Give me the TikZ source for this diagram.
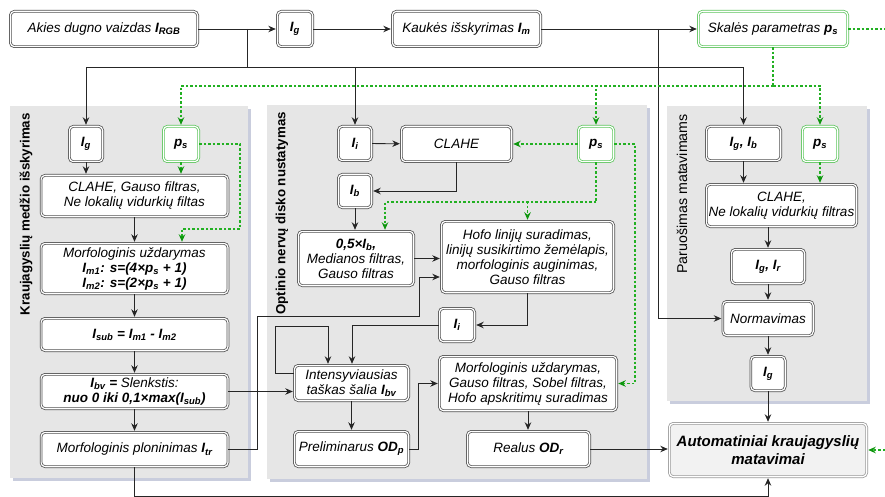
\documentclass[tikz,border=0pt]{standalone}
\usepackage{fontspec}
\setmainfont{Liberation Sans}
\usetikzlibrary{arrows.meta}

\definecolor{boxline}{HTML}{505050}
\definecolor{autoline}{HTML}{9A9A9A}
\definecolor{autofill}{HTML}{F2F2F2}
\definecolor{panelfill}{HTML}{E6E6E6}
\definecolor{panelshade}{HTML}{C9CDDD}
\definecolor{greenbox}{HTML}{5CC45C}
\definecolor{greendash}{HTML}{22B022}
\definecolor{greentip}{HTML}{0E960E}
\definecolor{wire}{HTML}{262626}
\definecolor{boxshade}{HTML}{BFBFBF}

\newcommand\varsub[2]{\textbf{#1\textsubscript{#2}}}

\tikzset{
  box/.style={draw=boxline, double=white, double distance=1.2pt, line width=0.75pt,
    rounded corners=4pt, fill=white, align=center, inner sep=1pt,
    font=\fontsize{13.5}{15}\selectfont\itshape},
  gbox/.style={box, draw=greenbox},
  sz/.style 2 args={minimum width=#1pt-2.7pt, minimum height=#2pt-2.7pt},
  conn/.style={draw=wire, line width=0.8pt, shorten >=1.2pt,
    -{Stealth[length=7.5pt,width=6.5pt]}},
  wireline/.style={draw=wire, line width=0.8pt},
  gconn/.style={draw=greendash, line width=1.1pt, dash pattern=on 2.5pt off 2pt,
    shorten >=1.2pt, -{Stealth[length=7.5pt,width=6.5pt,color=greentip]}},
  gline/.style={draw=greendash, line width=1.1pt, dash pattern=on 2.5pt off 2pt},
  plabel/.style={rotate=90, anchor=east, inner sep=0pt,
    font=\fontsize{13.3}{15}\selectfont\bfseries},
}

\begin{document}
\begin{tikzpicture}[x=1pt,y=-1pt]
\useasboundingbox (0,0) rectangle (885,497);

% grey group panels with a soft shadow
\fill[panelshade] (13,109) rectangle (251,481);
\fill[panelfill] (10,106) rectangle (248,478);
\fill[panelshade] (270,108) rectangle (650,482);
\fill[panelfill] (267,105) rectangle (647,479);
\fill[panelshade] (670,109) rectangle (870,404);
\fill[panelfill] (667,106) rectangle (867,401);

\node[plabel] (labL) at (26,113) {Kraujagyslių medžio išskyrimas};
\node[plabel] (labM) at (282,112) {Optinio nervų disko nustatymas};
\node[plabel, font=\fontsize{14.2}{15}\selectfont] (labR) at (682,114) {Paruošimas matavimams};

% top row
\node[box, sz={190}{38}] (rgb) at (104,29) {Akies dugno vaizdas \varsub{I}{RGB}};
\node[box, sz={38}{38}] (ig0) at (295,29) {\varsub{I}{g}};
\node[box, sz={151}{38}] (mask) at (466.5,29) {Kaukės išskyrimas \varsub{I}{m}};
\node[gbox, sz={152}{38}] (ps0) at (773,29) {Skalės parametras \varsub{p}{s}};

% vessel tree extraction
\node[box, sz={36}{38}] (igL) at (86,144) {\varsub{I}{g}};
\node[gbox, sz={38}{38}] (psL) at (181,144) {\varsub{p}{s}};
\node[box, sz={189.5}{44}] (claheL) at (134.5,196) {CLAHE, Gauso filtras,\\Ne lokalių vidurkių filtas};
\node[box, sz={189.5}{53}] (morfL) at (134.5,268.5) {Morfologinis uždarymas\\
  \textbf{I\textsubscript{m1}: s=(4×p\textsubscript{s} + 1)}\\
  \textbf{I\textsubscript{m2}: s=(2×p\textsubscript{s} + 1)}};
\node[box, sz={189.5}{35}] (isub) at (134.5,334.5) {\textbf{I\textsubscript{sub} = I\textsubscript{m1} - I\textsubscript{m2}}};
\node[box, sz={189.5}{37}] (ibv) at (134.5,391.5) {\textbf{I\textsubscript{bv} =} Slenkstis:\\\textbf{nuo 0 iki 0,1×max(I\textsubscript{sub})}};
\node[box, sz={189.5}{37}] (plon) at (134.5,449.5) {Morfologinis ploninimas \varsub{I}{tr}};

% optic disc detection
\node[box, sz={36}{37}] (ii1) at (355,143.5) {\varsub{I}{i}};
\node[box, sz={113}{38}] (claheM) at (456.5,144) {CLAHE};
\node[gbox, sz={38}{38}] (psM) at (596,144) {\varsub{p}{s}};
\node[box, sz={36}{36}] (ib) at (355,191) {\varsub{I}{b}};
\node[box, sz={118}{57}] (med) at (356,258.5) {\textbf{0,5×I\textsubscript{b},}\\Medianos filtras,\\Gauso filtras};
\node[box, sz={175}{74}] (hofo) at (527.5,257) {Hofo linijų suradimas,\\linijų susikirtimo žemėlapis,\\morfologinis auginimas,\\Gauso filtras};
\node[box, sz={38}{36}] (ii2) at (457,325) {\varsub{I}{i}};
\node[box, sz={117}{38}] (intens) at (351.5,383) {Intensyviausias\\taškas šalia \varsub{I}{bv}};
\node[box, sz={180}{57}] (morfM) at (528,383.5) {Morfologinis uždarymas,\\Gauso filtras, Sobel filtras,\\Hofo apskritimų suradimas};
\node[box, sz={117}{38}] (prelim) at (351.5,449) {Preliminarus \varsub{OD}{p}};
\node[box, sz={125}{38}] (realus) at (528.5,449) {Realus \varsub{OD}{r}};

% preparation for measurements
\node[box, sz={77}{37}] (igib) at (743.5,143.5) {\textbf{I\textsubscript{g}, I\textsubscript{b}}};
\node[gbox, sz={38}{38}] (psR) at (820,144) {\varsub{p}{s}};
\node[box, sz={153}{45}] (claheR) at (781.5,205.5) {CLAHE,\\Ne lokalių vidurkių filtras};
\node[box, sz={76}{37}] (igir) at (768,266.5) {\textbf{I\textsubscript{g}, I\textsubscript{r}}};
\node[box, sz={93}{37}] (norm) at (768,318.5) {Normavimas};
\node[box, sz={37}{37}] (igR) at (768,373.5) {\varsub{I}{g}};
\node[box, draw=autoline, fill=autofill, sz={200}{56},
  font=\fontsize{15}{17.5}\selectfont\bfseries\itshape] (auto) at (768,450)
  {Automatiniai kraujagyslių\\matavimai};

% junction points
\coordinate (j1) at (247,29);
\coordinate (h1) at (247,67);
\coordinate (j2) at (658,29);
\coordinate (g1) at (773,86);
\coordinate (gL) at (182,229);
\coordinate (gLc) at (240,229);
\coordinate (k1) at (257,316);
\coordinate (k2) at (419,277);
\coordinate (b1) at (134.5,496.5);
\coordinate (g2) at (596,202);
\coordinate (m1) at (385,0);
\coordinate (g3) at (635,383.5);
\coordinate (m2) at (352,0);
\coordinate (ly) at (0,373);
\coordinate (l1) at (275,326);
\coordinate (l2) at (328,0);
\coordinate (r1) at (768,0);
\coordinate (e1) at (897,29);
\coordinate (e2) at (897,450);

% top row flow
\draw[conn] (rgb) -- (ig0);
\draw[conn] (ig0) -- (mask);
\draw[conn] (mask) -- (ps0);
\draw[wireline] (j1) -- (h1);
\draw[conn] (h1) -| (igL.north);
\draw[conn] (h1) -| (ii1.north);
\draw[conn] (h1) -| (igib.north);
\draw[conn] (j2) |- (norm.west);

% scale parameter distribution
\draw[gline] (ps0.south) -- (g1);
\draw[gconn] (g1) -| (psL.north);
\draw[gconn] (g1) -| (psM.north);
\draw[gconn] (g1) -| (psR.north);
\draw[gconn] (ps0.east) -- (e1) -- (e2) -- (auto.east);

% vessel tree extraction flow
\draw[conn] (igL.south) -- (igL.south |- claheL.north);
\draw[gconn] (psL.south) -- (psL.south |- claheL.north);
\draw[conn] (claheL) -- (morfL);
\draw[gconn] (psL.east) -| (gLc) -- (gL) -- (gL |- morfL.north);
\draw[conn] (morfL) -- (isub);
\draw[conn] (isub) -- (ibv);
\draw[conn] (ibv) -- (plon);
\draw[conn] (ibv.east) -- (ibv.east -| intens.west);
\draw[conn] (plon.east) -| (k1) -| (k2) -- (k2 -| hofo.west);
\draw[conn] (plon.south) -- (b1) -| (auto.south);

% optic disc flow
\draw[conn] (ii1) -- (claheM);
\draw[gconn] (psM) -- (claheM);
\draw[conn] (claheM.south) |- (ib.east);
\draw[conn] (ib.south) -- (ib.south |- med.north);
\draw[gline] (psM.south) -- (g2);
\draw[gconn] (g2) -| (m1 |- med.north);
\draw[gconn] (g2) -| (hofo.north);
\draw[gconn] (psM.east) -| (g3) -- (morfM.east);
\draw[conn] (med.east) -- (med.east -| hofo.west);
\draw[conn] (hofo.south) |- (ii2.east);
\draw[conn] (ii2.west) -| (m2 |- intens.north);
\draw[conn] (intens.west |- ly) -| (l1) -| (l2 |- intens.north);
\draw[conn] (intens) -- (prelim);
\draw[conn] (prelim.east) -- ++(9,0) |- (morfM.west);
\draw[conn] (morfM.south) -- (morfM.south |- realus.north);
\draw[conn] (realus.east) -- (realus.east -| auto.west);

% preparation flow
\draw[conn] (igib.south) -- (igib.south |- claheR.north);
\draw[gconn] (psR.south) -- (psR.south |- claheR.north);
\draw[conn] (r1 |- claheR.south) -- (igir.north);
\draw[conn] (igir) -- (norm);
\draw[conn] (norm) -- (igR);
\draw[conn] (igR) -- (auto);
\end{tikzpicture}
\end{document}
